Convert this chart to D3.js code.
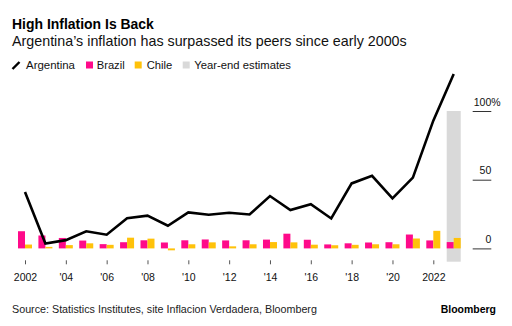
<!DOCTYPE html>
<html><head><meta charset="utf-8">
<script src="https://cdn.jsdelivr.net/npm/d3@7"></script>
<style>
html,body{margin:0;padding:0;background:#fff;}
svg{display:block;font-family:"Liberation Sans",Arial,Helvetica,sans-serif;}
</style></head>
<body><svg id="c" width="512" height="326"></svg>
<script>
const years     = [2002,2003,2004,2005,2006,2007,2008,2009,2010,2011,2012,2013,2014,2015,2016,2017,2018,2019,2020,2021,2022,2023];
const argentina = [41,3.6,6.0,12.5,10.0,21.9,23.8,16.5,26.2,24.5,25.9,24.7,38.1,27.9,32.2,21.8,47.3,52.8,36.4,51.5,93,127];
const brazil    = [12.5,9.4,7.6,5.7,3.1,4.5,5.9,4.3,5.9,6.5,5.8,5.9,6.4,10.7,6.3,2.9,3.7,4.3,4.5,10.1,5.8,4.6];
const chile     = [2.8,1.1,2.4,3.7,2.6,7.8,7.1,-1.4,3.0,4.4,1.5,3.0,4.6,4.4,2.7,2.3,2.6,3.0,3.0,7.2,12.8,7.6];
const estimateYear = 2023;
const xTicks = [2002,2004,2006,2008,2010,2012,2014,2016,2018,2020,2022];
const xTickLabels = ["2002","'04","'06","'08","'10","'12","'14","'16","'18","'20","2022"];
const yTicks = [0,50,100];
const yTickLabels = ["0","50","100"];
const legendItems = ["Argentina","Brazil","Chile","Year-end estimates"];

const C = {arg:"#000000", bra:"#ff0a8a", chi:"#ffc20a", est:"#d9d9d9"};
const svg = d3.select("#c");

function fit(sel, w){
  const n = sel.node(); const fs = parseFloat(sel.attr("font-size"));
  const l = n.getComputedTextLength(); if(l>0) sel.attr("font-size", (fs*w/l).toFixed(2));
  return sel;
}

// titles
fit(svg.append("text").attr("x",12).attr("y",29).attr("font-size",14).attr("font-weight","bold").attr("fill","#000").text("High Inflation Is Back"),142);
fit(svg.append("text").attr("x",12).attr("y",45.7).attr("font-size",13.5).attr("fill","#111").text("Argentina\u2019s inflation has surpassed its peers since early 2000s"),395);

// legend
const lg = svg.append("g");
lg.append("line").attr("x1",12.5).attr("y1",69).attr("x2",19.5).attr("y2",62).attr("stroke","#000").attr("stroke-width",2.4);
fit(lg.append("text").attr("x",26).attr("y",68.5).attr("font-size",11).attr("fill","#111").text(legendItems[0]),49);
lg.append("rect").attr("x",86).attr("y",61.5).attr("width",7).attr("height",7).attr("fill",C.bra);
fit(lg.append("text").attr("x",96.7).attr("y",68.5).attr("font-size",11).attr("fill","#111").text(legendItems[1]),28);
lg.append("rect").attr("x",134.7).attr("y",61.5).attr("width",7).attr("height",7).attr("fill",C.chi);
fit(lg.append("text").attr("x",146.7).attr("y",68.5).attr("font-size",11).attr("fill","#111").text(legendItems[2]),25.6);
lg.append("rect").attr("x",182.7).attr("y",61.5).attr("width",7).attr("height",7).attr("fill",C.est);
fit(lg.append("text").attr("x",194.3).attr("y",68.5).attr("font-size",11).attr("fill","#111").text(legendItems[3]),96.7);

// scales
const x = d3.scaleLinear().domain([2002,2022]).range([25,433.3]);
const y = d3.scaleLinear().domain([0,100]).range([248.4,111]);
const sub = d3.scaleBand().domain(["Brazil","Chile"]).range([-7,7]);
const plotBottom = 261.7;

// estimate band
svg.append("rect").attr("x",x(estimateYear)-7).attr("width",14)
  .attr("y",y(100)).attr("height",plotBottom-y(100)).attr("fill",C.est);

// bars
const rows = years.map((yr,i)=>({yr, bra:brazil[i], chi:chile[i]}));
svg.append("g").selectAll("rect").data(rows).join("rect")
  .attr("x",d=>x(d.yr)+sub("Brazil")).attr("width",sub.bandwidth())
  .attr("y",d=>y(Math.max(0,d.bra))).attr("height",d=>Math.abs(y(d.bra)-y(0)))
  .attr("fill",C.bra);
svg.append("g").selectAll("rect").data(rows).join("rect")
  .attr("x",d=>x(d.yr)+sub("Chile")).attr("width",sub.bandwidth())
  .attr("y",d=>y(Math.max(0,d.chi))).attr("height",d=>Math.abs(y(d.chi)-y(0)))
  .attr("fill",C.chi);

// line
svg.append("path").datum(years.map((yr,i)=>[yr,argentina[i]]))
  .attr("d",d3.line().x(d=>x(d[0])).y(d=>y(d[1])))
  .attr("fill","none").attr("stroke",C.arg).attr("stroke-width",2.6).attr("stroke-linejoin","miter");

// x axis
const xa = svg.append("g").attr("transform","translate(0,260.3)")
  .call(d3.axisBottom(x).tickValues(xTicks).tickSize(4).tickFormat((d,i)=>xTickLabels[i]));
xa.select(".domain").remove();
xa.selectAll(".tick line").attr("stroke","#555");
xa.selectAll(".tick text").attr("font-size",10.5).attr("fill","#111").attr("font-family",null).attr("dy",null).attr("y",20.8);
xa.attr("font-family",null);

// y axis (right)
const ya = svg.append("g").attr("transform","translate(472.7,0)")
  .call(d3.axisRight(y).tickValues(yTicks).tickSize(18.6).tickFormat((d,i)=>yTickLabels[i]));
ya.attr("font-family",null);
ya.select(".domain").remove();
ya.selectAll(".tick line").attr("stroke","#333").attr("stroke-width",1);
ya.selectAll(".tick text").attr("font-size",10.5).attr("fill","#111").attr("text-anchor","end")
  .attr("x",18.6).attr("dy",null).attr("y",-6);
ya.selectAll(".tick text").filter(d=>d===100).append("tspan").text("%");
// hang the % sign past the tick end
ya.selectAll(".tick text").filter(d=>d===100).each(function(){
  const t=d3.select(this); const pct=t.select("tspan").node().getComputedTextLength();
  t.attr("x",18.6+pct);
});

// footer
fit(svg.append("text").attr("x",12).attr("y",313.3).attr("font-size",10.5).attr("fill","#222").text("Source: Statistics Institutes, site Inflacion Verdadera, Bloomberg"),305);
const bb = svg.append("text").attr("x",496).attr("y",313.3).attr("font-size",11).attr("font-weight","bold").attr("text-anchor","end").attr("fill","#000").text("Bloomberg");
fit(bb,55.3);
</script></body></html>
